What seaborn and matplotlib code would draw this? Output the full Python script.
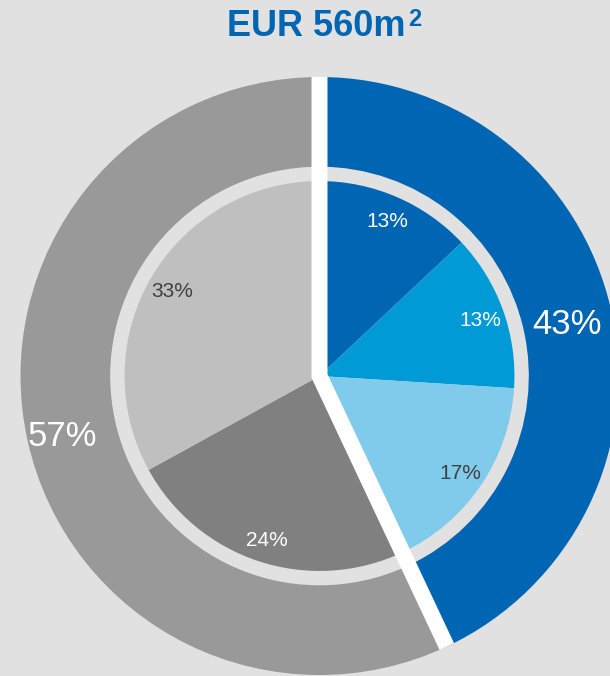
import matplotlib
matplotlib.use("Agg")
import matplotlib.pyplot as plt
import seaborn as sns
import numpy as np

# ---- data ----
title_main = "EUR 560m"
title_sup = "2"
outer_groups = ["Blue", "Grey"]
outer_values = [43, 57]
inner_values = [13, 13, 17, 24, 33]

# ---- styles ----
BG = "#E1E1E1"
outer_colors = ["#0066B3", "#999999"]
inner_colors = ["#0066B3", "#009AD6", "#80CBEC", "#808080", "#BFBFBF"]
inner_text_colors = ["white", "white", "#404040", "white", "#404040"]
outer_label_dist = [0.847, 0.88]

sns.set_style("white")
plt.rcParams['font.family'] = ['Liberation Sans', 'DejaVu Sans']

W, H = 610, 676
fig = plt.figure(figsize=(W / 100, H / 100), dpi=100, facecolor=BG)
ax = fig.add_axes([0, 0, 1, 1])
ax.set_facecolor(BG)

# outer ring
wo, to, ao = ax.pie(outer_values, colors=outer_colors, radius=1.0, startangle=90,
                    counterclock=False, autopct='%.0f%%', pctdistance=0.86,
                    wedgeprops=dict(width=0.30, edgecolor='none', linewidth=0),
                    textprops=dict(color='white', fontsize=25))
for w, t, d in zip(wo, ao, outer_label_dist):
    mid = np.deg2rad((w.theta1 + w.theta2) / 2)
    t.set_position((d * np.cos(mid), d * np.sin(mid)))
    t.set_va('center_baseline')

# inner pie
wi, ti, ai = ax.pie(inner_values, colors=inner_colors, radius=0.652, startangle=90,
                    counterclock=False, autopct='%.0f%%', pctdistance=0.875,
                    wedgeprops=dict(edgecolor='none', linewidth=0),
                    textprops=dict(fontsize=15))
for t, c in zip(ai, inner_text_colors):
    t.set_color(c)
    t.set_va('center_baseline')

# white separator along the group boundaries
bounds = np.cumsum([0] + outer_values[:-1]) / np.sum(outer_values)
angs = np.deg2rad(90 - 360 * bounds)
xs = [np.cos(angs[0]), 0, np.cos(angs[1])]
ys = [np.sin(angs[0]), 0, np.sin(angs[1])]
ax.plot(xs, ys, color='white', lw=11.5, solid_capstyle='butt',
        solid_joinstyle='miter', zorder=5)

cx, cy, R = 319.5, 376.0, 299.0
ax.set_xlim(-cx / R, (W - cx) / R)
ax.set_ylim((cy - H) / R, cy / R)
ax.set_aspect('equal')
ax.axis('off')

fig.text(226.7 / W, 1 - 36.5 / H, title_main, ha='left', va='baseline',
         fontsize=26, fontweight='bold', color='#0066B3')
fig.text(408 / W, 1 - 26 / H, title_sup, ha='left', va='baseline',
         fontsize=17, fontweight='bold', color='#0066B3')

fig.savefig("out.png", dpi=100, facecolor=BG)
